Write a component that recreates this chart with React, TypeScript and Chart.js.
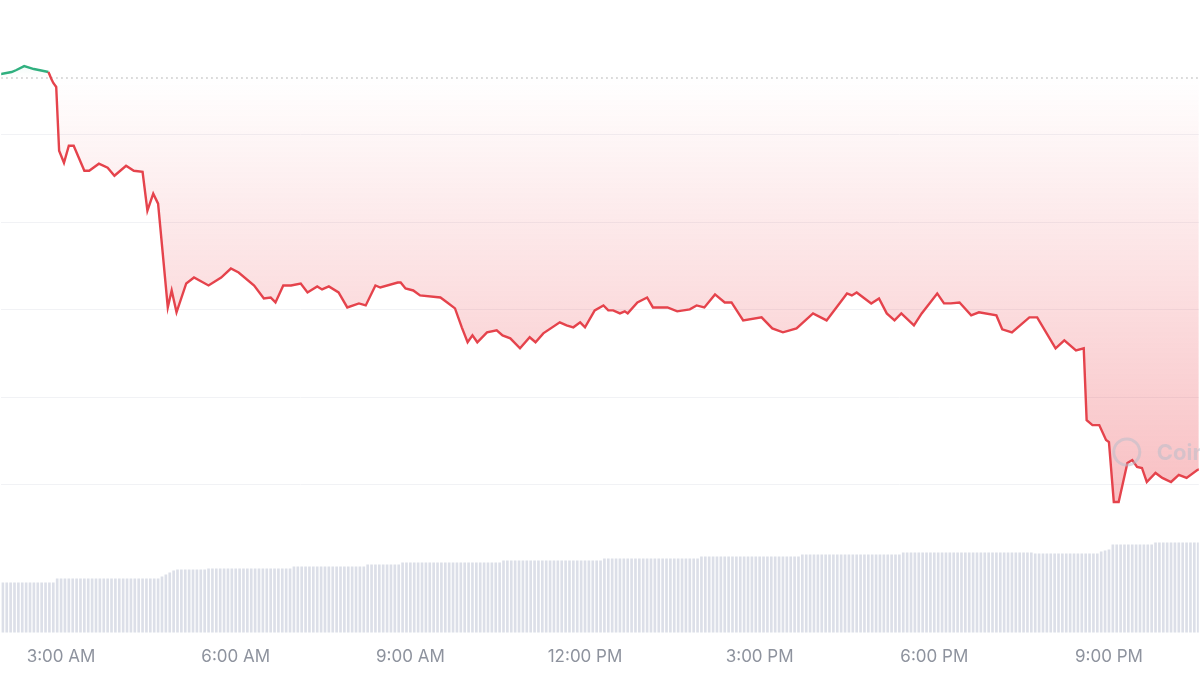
import React, { useEffect, useRef } from 'react';
import { Chart, registerables } from 'chart.js';

Chart.register(...registerables);

// ---- data (time in minutes since midnight) ----
const priceTimes = [
  118, 129, 134, 142, 152, 162, 167, 170, 172, 175,
  178, 183, 188, 193, 204, 209, 219, 228, 235, 247,
  255, 264, 269, 275, 280, 290, 294, 299, 309, 317,
  332, 345, 355, 363, 379, 389, 396, 401, 409, 417,
  427, 434, 444, 449, 456, 466, 475, 487, 494, 504,
  509, 527, 530, 535, 543, 550, 571, 578, 586, 593,
  599, 604, 609, 619, 629, 635, 643, 653, 663, 669,
  677, 694, 701, 708, 715, 720, 730, 739, 744, 749,
  756, 761, 764, 774, 784, 790, 805, 815, 828, 835,
  843, 854, 864, 871, 883, 902, 913, 924, 938, 955,
  969, 990, 995, 1000, 1015, 1023, 1031, 1039, 1046, 1059,
  1067, 1083, 1090, 1097, 1106, 1118, 1126, 1144, 1150, 1160,
  1178, 1186, 1205, 1214, 1226, 1234, 1237, 1243, 1250, 1257,
  1260, 1265, 1270, 1279, 1284, 1289, 1294, 1299, 1308, 1315,
  1324, 1332, 1340, 1351, 1358,
];

const priceValues = [
  24.695, 24.718, 24.741, 24.786, 24.752, 24.729, 24.718, 24.638, 24.593, 24.547,
  23.818, 23.681, 23.875, 23.875, 23.590, 23.590, 23.670, 23.624, 23.533, 23.647,
  23.590, 23.578, 23.134, 23.328, 23.214, 22.028, 22.222, 21.972, 22.302, 22.370,
  22.279, 22.370, 22.473, 22.427, 22.279, 22.131, 22.142, 22.085, 22.279, 22.279,
  22.302, 22.199, 22.268, 22.234, 22.268, 22.199, 22.028, 22.074, 22.051, 22.279,
  22.256, 22.313, 22.313, 22.245, 22.222, 22.165, 22.142, 22.085, 22.017, 21.801,
  21.630, 21.709, 21.630, 21.744, 21.766, 21.709, 21.675, 21.561, 21.687, 21.630,
  21.732, 21.858, 21.823, 21.801, 21.858, 21.801, 21.994, 22.051, 21.994, 21.994,
  21.960, 21.983, 21.960, 22.085, 22.142, 22.028, 22.028, 21.983, 22.006, 22.051,
  22.028, 22.177, 22.085, 22.085, 21.880, 21.915, 21.789, 21.744, 21.789, 21.960,
  21.880, 22.188, 22.165, 22.199, 22.074, 22.131, 21.960, 21.880, 21.960, 21.823,
  21.960, 22.188, 22.074, 22.074, 22.085, 21.937, 21.972, 21.937, 21.778, 21.744,
  21.915, 21.915, 21.561, 21.652, 21.538, 21.561, 20.741, 20.684, 20.684, 20.513,
  20.490, 19.806, 19.806, 20.251, 20.285, 20.205, 20.194, 20.034, 20.137, 20.080,
  20.034, 20.114, 20.080, 20.171, 20.194,
];

// price 24h ago (dotted reference line)
const openPrice = 24.65;

// volume bars, one every 4 minutes starting at 2:00 AM
const volumeStart = 120;
const volumeStep = 4;
const volumeValues = [
  100, 100, 100, 100, 100, 100, 100, 100, 100, 100, 100, 100, 100, 100,
  108, 108, 108, 108, 108, 108, 108, 108, 108, 108, 108, 108, 108, 108,
  108, 108, 108, 108, 108, 108, 108, 108, 108, 108, 108, 108, 108,
  112, 116, 120, 124,
  126, 126, 126, 126, 126, 126, 126, 126,
  128, 128, 128, 128, 128, 128, 128, 128, 128, 128, 128,
  128, 128, 128, 128, 128, 128, 128, 128, 128, 128, 128,
  132, 132, 132, 132, 132, 132, 132, 132, 132, 132,
  132, 132, 132, 132, 132, 132, 132, 132, 132,
  136, 136, 136, 136, 136, 136, 136, 136, 136,
  140, 140, 140, 140, 140, 140, 140, 140, 140, 140, 140, 140, 140,
  140, 140, 140, 140, 140, 140, 140, 140, 140, 140, 140, 140, 140,
  144, 144, 144, 144, 144, 144, 144, 144, 144, 144, 144, 144, 144,
  144, 144, 144, 144, 144, 144, 144, 144, 144, 144, 144, 144, 144,
  148, 148, 148, 148, 148, 148, 148, 148, 148, 148, 148, 148, 148,
  148, 148, 148, 148, 148, 148, 148, 148, 148, 148, 148, 148,
  152, 152, 152, 152, 152, 152, 152, 152, 152, 152, 152, 152, 152,
  152, 152, 152, 152, 152, 152, 152, 152, 152, 152, 152, 152, 152,
  156, 156, 156, 156, 156, 156, 156, 156, 156, 156, 156, 156, 156,
  156, 156, 156, 156, 156, 156, 156, 156, 156, 156, 156, 156, 156,
  160, 160, 160, 160, 160, 160, 160, 160, 160, 160, 160, 160, 160, 160, 160, 160, 160,
  160, 160, 160, 160, 160, 160, 160, 160, 160, 160, 160, 160, 160, 160, 160, 160, 160,
  158, 158, 158, 158, 158, 158, 158, 158, 158, 158, 158, 158, 158, 158, 158, 158, 158,
  162, 164, 166,
  176, 176, 176, 176, 176, 176, 176, 176, 176, 176, 176,
  180, 180, 180, 180, 180, 180, 180, 180, 180, 180, 180, 180,
];

// x axis ticks
const tickMinutes = [180, 360, 540, 720, 900, 1080, 1260];
const tickLabels = ['3:00 AM', '6:00 AM', '9:00 AM', '12:00 PM', '3:00 PM', '6:00 PM', '9:00 PM'];

// price grid lines
const gridValues = [20, 21, 22, 23, 24];

// visible window
const viewStart = 118.3;
const viewEnd = 1352.6;
const priceMin = 18.313;
const priceMax = 25.527;
const volumeMax = 1266;
const gradientFloor = 20;

const RED = '#e5434c';
const GREEN = '#30b07f';

const watermark = {
  id: 'watermark',
  afterDatasetsDraw(chart: any) {
    const { ctx, chartArea } = chart;
    const cx = chartArea.right - 72;
    const cy = 452;
    ctx.save();
    ctx.strokeStyle = 'rgba(185,190,202,0.55)';
    ctx.lineWidth = 3;
    ctx.beginPath();
    ctx.arc(cx, cy, 13, 0, Math.PI * 2);
    ctx.stroke();
    ctx.fillStyle = 'rgba(185,190,202,0.55)';
    ctx.font = 'bold 22px Inter, sans-serif';
    ctx.textBaseline = 'middle';
    ctx.fillText('CoinGecko', cx + 30, cy + 1);
    ctx.restore();
  },
};

export default function App() {
  const ref = useRef<HTMLCanvasElement>(null);

  useEffect(() => {
    document.body.style.margin = '0';
    const canvas = ref.current;
    if (!canvas) return;

    const priceData = priceTimes.map((t, i) => ({ x: t, y: priceValues[i] }));
    const volumeData = volumeValues.map((v, i) => ({ x: volumeStart + i * volumeStep, y: v }));

    const chart = new Chart(canvas, {
      type: 'line',
      data: {
        datasets: [
          {
            type: 'line',
            data: priceData,
            borderColor: RED,
            borderWidth: 2.4,
            pointRadius: 0,
            tension: 0,
            fill: { target: { value: openPrice }, above: 'rgba(48,176,127,0.06)', below: 'rgba(234,57,67,0.15)' },
            segment: {
              borderColor: (c: any) =>
                c.p0.parsed.y >= openPrice && c.p1.parsed.y >= openPrice ? GREEN : RED,
            },
            yAxisID: 'y',
            order: 1,
          } as any,
          {
            type: 'line',
            data: [
              { x: viewStart, y: openPrice },
              { x: viewEnd, y: openPrice },
            ],
            borderColor: '#c4c4c4',
            borderWidth: 1.5,
            borderDash: [1.5, 3.5],
            pointRadius: 0,
            fill: false,
            yAxisID: 'y',
            order: 2,
          } as any,
          {
            type: 'bar',
            data: volumeData,
            backgroundColor: '#dcdfe8',
            barThickness: 2,
            yAxisID: 'y2',
            order: 3,
          } as any,
        ],
      },
      options: {
        responsive: false,
        animation: false,
        layout: { padding: { left: 0, right: 0, top: 0, bottom: 0 } },
        plugins: { legend: { display: false }, tooltip: { enabled: false } },
        scales: {
          x: {
            type: 'linear',
            min: viewStart,
            max: viewEnd,
            offset: false,
            grid: { display: false, drawTicks: false },
            border: { display: false },
            afterBuildTicks: (scale: any) => {
              scale.ticks = tickMinutes.map((v) => ({ value: v }));
            },
            ticks: {
              autoSkip: false,
              maxRotation: 0,
              padding: 14,
              color: '#8e939e',
              font: { family: 'Inter, sans-serif', size: 17 },
              callback: (value: any) => {
                const idx = tickMinutes.indexOf(Number(value));
                return idx >= 0 ? tickLabels[idx] : '';
              },
            },
          },
          y: {
            type: 'linear',
            min: priceMin,
            max: priceMax,
            position: 'left',
            afterBuildTicks: (scale: any) => {
              scale.ticks = gridValues.map((v) => ({ value: v }));
            },
            ticks: { display: false },
            grid: { color: '#f1f2f5', lineWidth: 1, drawTicks: false },
            border: { display: false },
          },
          y2: {
            type: 'linear',
            min: 0,
            max: volumeMax,
            display: false,
          },
        },
      } as any,
      plugins: [watermark],
    });

    const yScale = chart.scales.y;
    const ctx = chart.ctx;
    const topPx = yScale.getPixelForValue(openPrice);
    const bottomPx = yScale.getPixelForValue(gradientFloor);
    const redGrad = ctx.createLinearGradient(0, topPx, 0, bottomPx);
    redGrad.addColorStop(0, 'rgba(234,57,67,0.0)');
    redGrad.addColorStop(1, 'rgba(234,57,67,0.31)');
    const greenGrad = ctx.createLinearGradient(0, topPx - 20, 0, topPx);
    greenGrad.addColorStop(0, 'rgba(48,176,127,0.10)');
    greenGrad.addColorStop(1, 'rgba(48,176,127,0.0)');
    (chart.data.datasets[0] as any).fill = {
      target: { value: openPrice },
      above: greenGrad,
      below: redGrad,
    };
    chart.update();

    return () => chart.destroy();
  }, []);

  return (
    <div style={{ position: 'fixed', left: 0, top: 0, width: 1200, height: 675, background: '#ffffff', overflow: 'hidden' }}>
      <canvas ref={ref} width={1200} height={681} style={{ display: 'block' }} />
    </div>
  );
}
